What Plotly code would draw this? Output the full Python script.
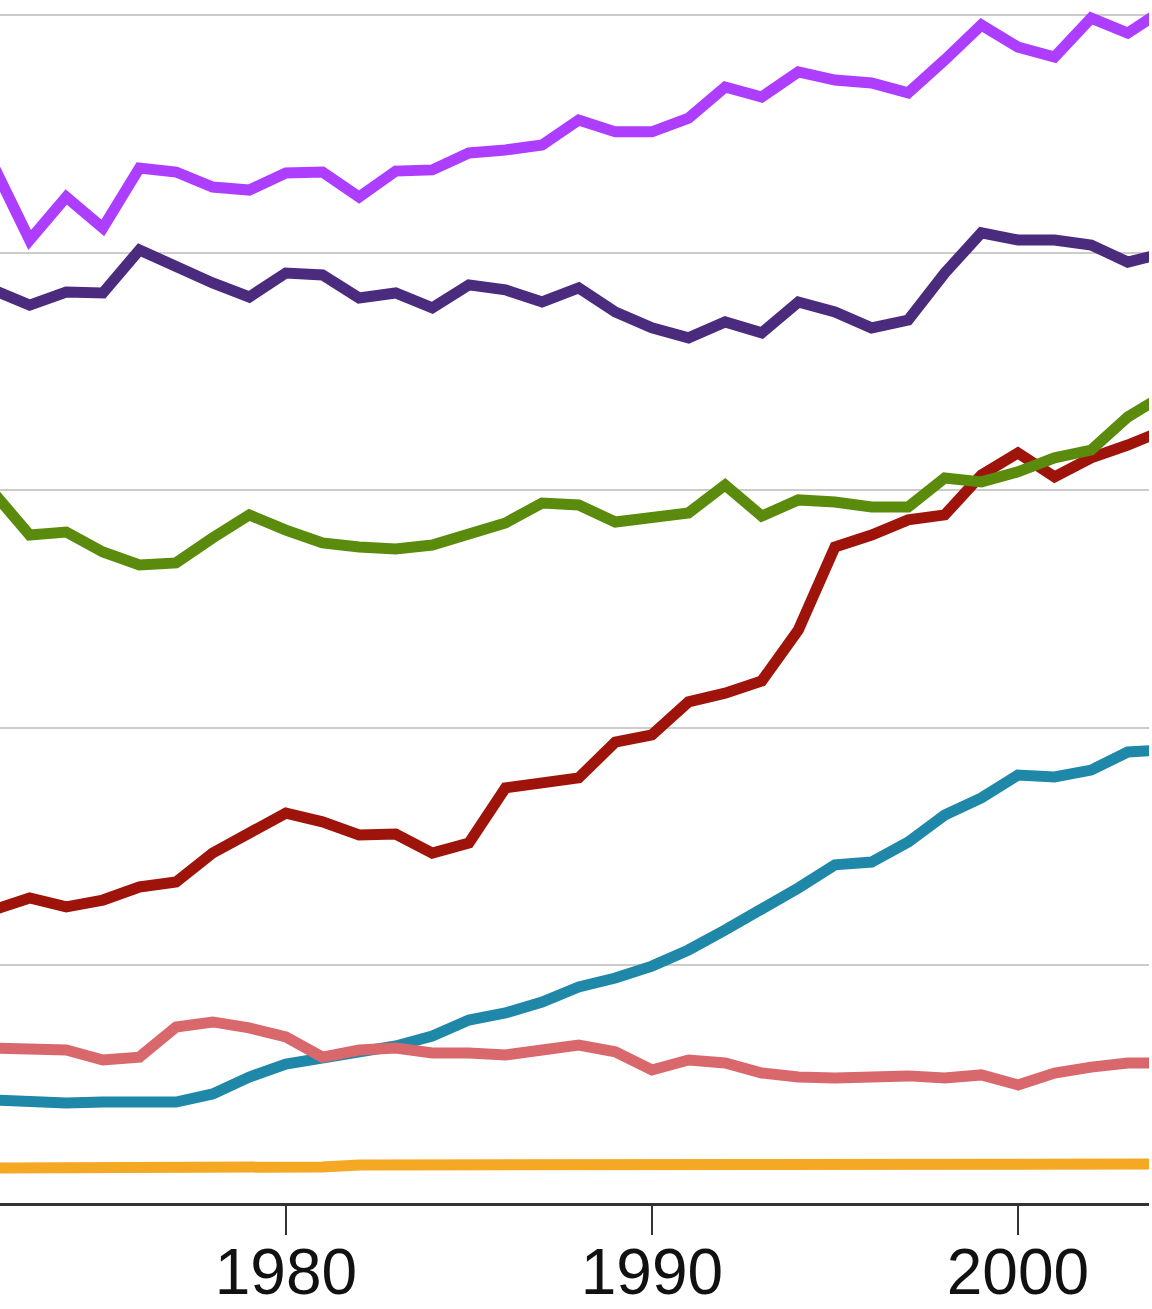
import plotly.graph_objects as go

years = list(range(1972, 2005))

violet = [4.369, 4.053, 4.234, 4.104, 4.356, 4.339, 4.276, 4.263, 4.335, 4.339,
          4.234, 4.343, 4.348, 4.419, 4.432, 4.453, 4.558, 4.508, 4.508, 4.566,
          4.697, 4.655, 4.760, 4.726, 4.714, 4.672, 4.811, 4.958, 4.865, 4.823,
          4.987, 4.924, 5.025]

indigo = [3.843, 3.779, 3.834, 3.830, 4.011, 3.939, 3.872, 3.813, 3.914, 3.906,
          3.809, 3.830, 3.767, 3.864, 3.843, 3.792, 3.851, 3.750, 3.683, 3.641,
          3.708, 3.662, 3.792, 3.750, 3.683, 3.716, 3.914, 4.083, 4.053, 4.053,
          4.032, 3.960, 3.998]

green = [2.992, 2.811, 2.824, 2.740, 2.685, 2.694, 2.799, 2.896, 2.832, 2.778,
         2.761, 2.753, 2.769, 2.811, 2.862, 2.946, 2.938, 2.866, 2.883, 2.904,
         3.022, 2.891, 2.959, 2.950, 2.929, 2.929, 3.051, 3.035, 3.077, 3.136,
         3.169, 3.308, 3.401]

darkred = [1.233, 1.284, 1.246, 1.275, 1.330, 1.351, 1.473, 1.557, 1.641, 1.604,
           1.549, 1.553, 1.473, 1.515, 1.747, 1.768, 1.789, 1.940, 1.970, 2.109,
           2.146, 2.197, 2.412, 2.761, 2.811, 2.875, 2.896, 3.064, 3.157, 3.056,
           3.136, 3.190, 3.253]

teal = [0.434, 0.425, 0.421, 0.425, 0.421, 0.425, 0.459, 0.530, 0.585, 0.610,
        0.636, 0.661, 0.703, 0.770, 0.800, 0.846, 0.909, 0.947, 0.997, 1.065,
        1.149, 1.233, 1.326, 1.423, 1.435, 1.519, 1.633, 1.705, 1.801, 1.793,
        1.822, 1.898, 1.907]

salmon = [0.652, 0.652, 0.644, 0.602, 0.614, 0.741, 0.762, 0.737, 0.699, 0.614,
          0.644, 0.652, 0.631, 0.631, 0.623, 0.644, 0.665, 0.636, 0.560, 0.602,
          0.589, 0.547, 0.530, 0.526, 0.530, 0.535, 0.526, 0.539, 0.497, 0.547,
          0.572, 0.589, 0.589]

gold = [0.147, 0.147, 0.147, 0.147, 0.147, 0.147, 0.147, 0.147, 0.147, 0.152,
        0.160, 0.160, 0.160, 0.160, 0.160, 0.164, 0.164, 0.164, 0.168, 0.168,
        0.168, 0.168, 0.168, 0.164, 0.164, 0.164, 0.160, 0.160, 0.160, 0.160,
        0.164, 0.164, 0.164]

series = [
    ("gold", gold, "#f5a823"),
    ("teal", teal, "#1f87a7"),
    ("salmon", salmon, "#d9686d"),
    ("darkred", darkred, "#9e140a"),
    ("green", green, "#5a8b0c"),
    ("indigo", indigo, "#4b2b7d"),
    ("violet", violet, "#ad3dff"),
]

fig = go.Figure()
for name, vals, color in series:
    fig.add_trace(go.Scatter(x=years, y=vals, mode="lines", name=name,
                             line=dict(color=color, width=11),
                             hoverinfo="skip"))

fig.update_layout(
    width=1152, height=1309,
    margin=dict(l=0, r=3, t=0, b=106, autoexpand=False),
    paper_bgcolor="white", plot_bgcolor="white",
    showlegend=False,
    xaxis=dict(range=[1972.19, 2003.58], tickvals=[1980, 1990, 2000],
               ticks="outside", ticklen=29, tickwidth=1.5, tickcolor="#333",
               ticklabelstandoff=-18,
               showgrid=False, showline=True, linecolor="#333", linewidth=2.5,
               zeroline=False, automargin=False,
               tickfont=dict(family="Liberation Sans, Arial", size=64, color="#111")),
    yaxis=dict(range=[0, 5.063], tickvals=[1, 2, 3, 4, 5], showticklabels=False,
               showgrid=True, gridcolor="#cccccc", gridwidth=2,
               zeroline=False, showline=False, automargin=False),
)

fig.write_html(
    "out.html",
    config={"displayModeBar": False},
    post_script="document.body.style.margin='0';document.body.style.overflow='hidden';",
)
